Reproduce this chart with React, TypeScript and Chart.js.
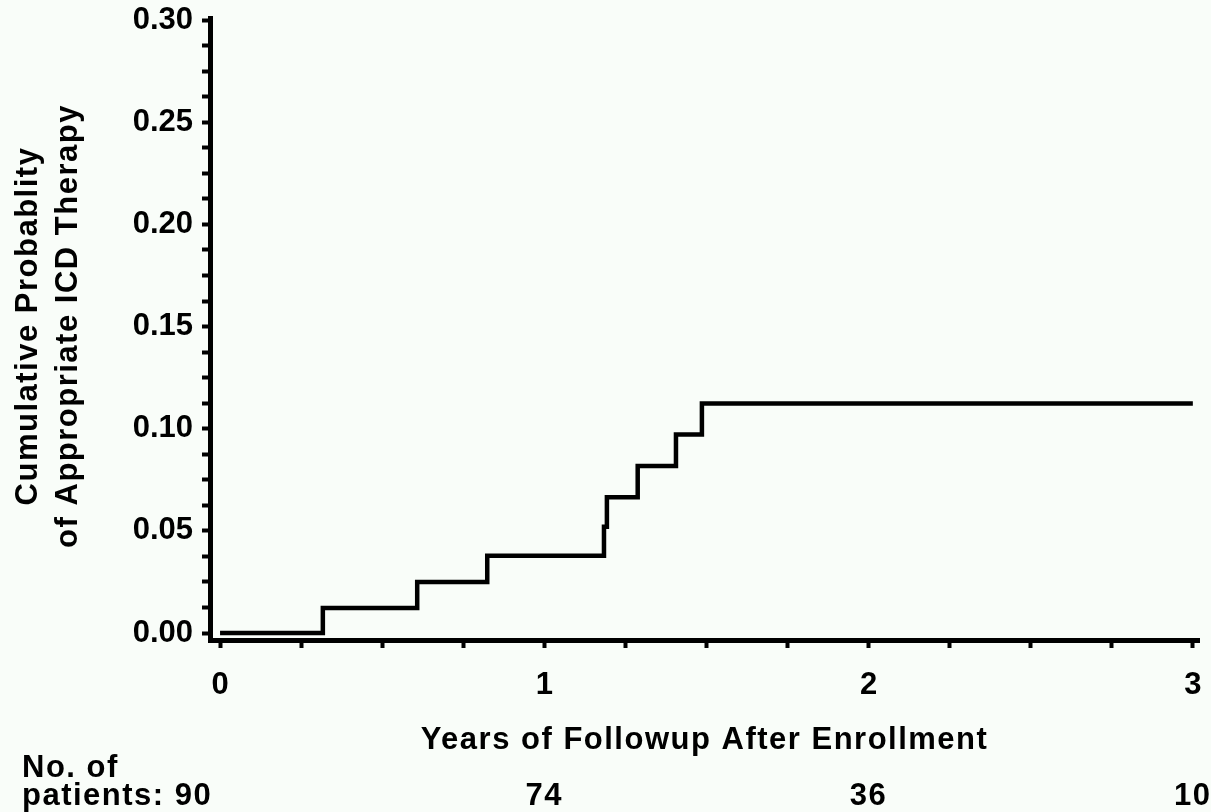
import React, { useEffect, useRef } from 'react';
import { Chart, registerables } from 'chart.js';

Chart.register(...registerables);

// ---- Data ----
const eventYears = [0, 0.317, 0.608, 0.824, 1.184, 1.193, 1.288, 1.406, 1.486, 3.0];
const cumulativeProbability = [0, 0.0122, 0.025, 0.0378, 0.052, 0.0664, 0.0818, 0.0972, 0.1124, 0.1124];

const xMajorTicks = [0, 1, 2, 3];
const yMajorTicks = [0, 0.05, 0.1, 0.15, 0.2, 0.25, 0.3];
const minorDivisions = 4;

const atRiskYears = [0, 1, 2, 3];
const atRiskCounts = [90, 74, 36, 10];

const xTitle = 'Years of Followup After Enrollment';
const yTitleLines = ['Cumulative Probablity', 'of Appropriate ICD Therapy'];
const atRiskLabelLines = ['No. of', 'patients:'];

const FONT_FAMILY = '"Liberation Sans", Arial, Helvetica, sans-serif';
const BG = '#f9fdf9';

function withMinor(majors: number[], div: number): number[] {
  const out: number[] = [];
  for (let i = 0; i < majors.length - 1; i++) {
    const a = majors[i];
    const b = majors[i + 1];
    for (let k = 0; k < div; k++) out.push(a + ((b - a) * k) / div);
  }
  out.push(majors[majors.length - 1]);
  return out;
}

const isMajor = (v: number, majors: number[]) => majors.some((m) => Math.abs(m - v) < 1e-9);

export default function App() {
  const ref = useRef<HTMLCanvasElement | null>(null);

  useEffect(() => {
    if (!ref.current) return;

    const bgPlugin = {
      id: 'bg',
      beforeDraw(chart: any) {
        const c = chart.ctx;
        c.save();
        c.fillStyle = BG;
        c.fillRect(0, 0, chart.width, chart.height);
        c.restore();
      },
    };

    const textPlugin = {
      id: 'texts',
      afterDraw(chart: any) {
        const c = chart.ctx as CanvasRenderingContext2D;
        const area = chart.chartArea;
        const xs = chart.scales.x;
        c.save();
        c.fillStyle = '#000';
        c.font = `bold 31px ${FONT_FAMILY}`;
        (c as any).letterSpacing = '1.5px';
        c.textBaseline = 'alphabetic';

        // x-axis title
        c.textAlign = 'center';
        c.fillText(xTitle, (area.left + area.right) / 2, 749);

        // y-axis title (two rotated lines)
        const yc = (area.top + area.bottom) / 2 - 3;
        const baselines = [37, 77];
        yTitleLines.forEach((line, i) => {
          c.save();
          c.translate(baselines[i], yc);
          c.rotate(-Math.PI / 2);
          c.textAlign = 'center';
          c.fillText(line, 0, 0);
          c.restore();
        });

        // number at risk
        c.textAlign = 'left';
        c.fillText(atRiskLabelLines[0], 22, 777);
        c.fillText(`${atRiskLabelLines[1]} ${atRiskCounts[0]}`, 22, 805);
        c.textAlign = 'center';
        for (let i = 1; i < atRiskCounts.length; i++) {
          c.fillText(String(atRiskCounts[i]), xs.getPixelForValue(atRiskYears[i]), 805);
        }
        c.restore();
      },
    };

    const xTicks = withMinor(xMajorTicks, minorDivisions);
    const yTicks = withMinor(yMajorTicks, minorDivisions);

    const chart = new Chart(ref.current, {
      type: 'line',
      data: {
        datasets: [
          {
            data: eventYears.map((x, i) => ({ x, y: cumulativeProbability[i] })),
            borderColor: '#000',
            borderWidth: 4.5,
            borderCapStyle: 'butt',
            borderJoinStyle: 'miter',
            pointRadius: 0,
            stepped: true,
            fill: false,
            clip: false as any,
          },
        ],
      },
      options: {
        responsive: false,
        animation: false,
        devicePixelRatio: 1,
        layout: { padding: { top: 18, right: 12, left: 0, bottom: 0 } },
        plugins: { legend: { display: false }, tooltip: { enabled: false } },
        scales: {
          x: {
            type: 'linear',
            min: -0.031,
            max: 3.019,
            afterBuildTicks: (s: any) => {
              s.ticks = xTicks.map((value) => ({ value }));
            },
            afterFit: (s: any) => {
              s.height = 172;
              s.paddingLeft = 0;
              s.paddingRight = 0;
            },
            ticks: {
              autoSkip: false,
              maxRotation: 0,
              minRotation: 0,
              padding: 19,
              color: '#000',
              font: { family: FONT_FAMILY, size: 31, weight: 'bold' },
              callback: (v: any) => (isMajor(Number(v), xMajorTicks) ? String(Math.round(Number(v))) : ''),
            },
            grid: {
              display: true,
              drawOnChartArea: false,
              drawTicks: true,
              tickLength: 8,
              tickWidth: 4,
              tickColor: '#000',
            },
            border: { display: true, color: '#000', width: 5 },
          },
          y: {
            type: 'linear',
            min: -0.0034,
            max: 0.301,
            afterBuildTicks: (s: any) => {
              s.ticks = yTicks.map((value) => ({ value }));
            },
            afterFit: (s: any) => {
              s.width = 210;
              s.paddingTop = 0;
              s.paddingBottom = 0;
            },
            ticks: {
              autoSkip: false,
              padding: 9,
              color: '#000',
              font: { family: FONT_FAMILY, size: 31, weight: 'bold' },
              callback: (v: any) => (isMajor(Number(v), yMajorTicks) ? Number(v).toFixed(2) : ''),
            },
            grid: {
              display: true,
              drawOnChartArea: false,
              drawTicks: true,
              tickLength: 8,
              tickWidth: 4,
              tickColor: '#000',
            },
            border: { display: true, color: '#000', width: 5 },
          },
        },
      } as any,
      plugins: [bgPlugin, textPlugin],
    });

    return () => chart.destroy();
  }, []);

  return (
    <canvas
      ref={ref}
      width={1211}
      height={812}
      style={{ position: 'fixed', left: 0, top: 0, width: 1211, height: 812, display: 'block' }}
    />
  );
}
